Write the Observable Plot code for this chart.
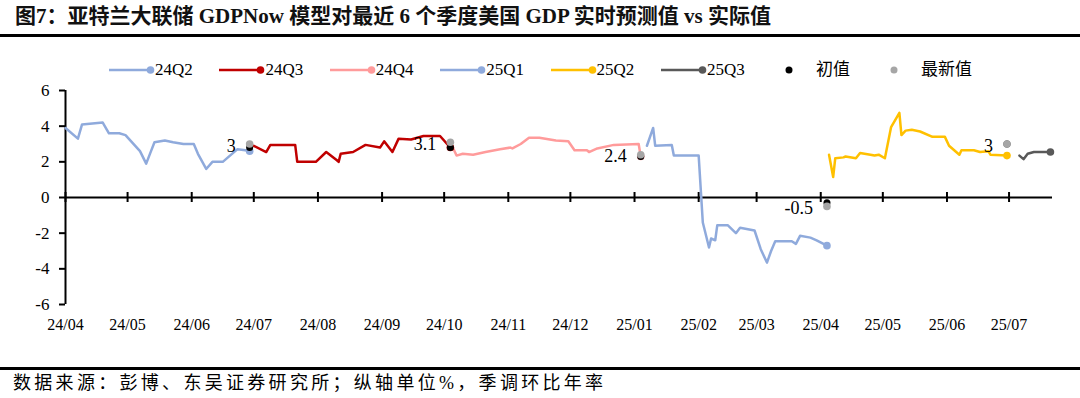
<!DOCTYPE html>
<html><head><meta charset="utf-8">
<script src="https://cdn.jsdelivr.net/npm/d3@7"></script>
<script src="https://cdn.jsdelivr.net/npm/@observablehq/plot@0.6"></script>
<style>
body{margin:0;width:1080px;height:398px;position:relative;background:#fff;overflow:hidden;font-family:"Liberation Serif","Noto Sans CJK SC",serif;color:#000;}
#title{position:absolute;left:15px;top:6px;font-size:21px;line-height:21px;font-weight:bold;white-space:nowrap;color:#111;}
#rule1{position:absolute;left:0;top:34px;width:1080px;height:3px;background:#000;}
#legend{position:absolute;left:0;top:60px;width:1080px;height:20px;}
.item{position:absolute;top:0;height:20px;display:flex;align-items:center;font-size:17px;line-height:20px;white-space:nowrap;}
.item svg{display:block;}
#chart{position:absolute;left:0;top:40px;}
#rule2{position:absolute;left:0;top:367px;width:1080px;height:3px;background:#000;}
#caption{position:absolute;left:13px;top:374px;font-size:18px;line-height:18px;letter-spacing:3.3px;white-space:nowrap;}
</style></head>
<body>
<div id="title">图7：亚特兰大联储 GDPNow 模型对最近 6 个季度美国 GDP 实时预测值 vs 实际值</div>
<div id="rule1"></div>
<div id="legend"></div>
<div id="chart"></div>
<div id="rule2"></div>
<div id="caption">数据来源：彭博、东吴证券研究所；纵轴单位%，季调环比年率</div>
<script>
// ---- data ----
const quarters = ["24Q2","24Q3","24Q4","25Q1","25Q2","25Q3"];

const dates24Q2 = ["2024-04-01","2024-04-07","2024-04-09","2024-04-19","2024-04-22","2024-04-27","2024-04-30","2024-05-07","2024-05-10","2024-05-12","2024-05-14","2024-05-19","2024-05-23","2024-05-28","2024-06-02","2024-06-04","2024-06-08","2024-06-11","2024-06-16","2024-06-23","2024-06-27","2024-06-29"];
const vals24Q2 = [3.9,3.3,4.1,4.2,3.6,3.6,3.5,2.6,1.9,2.5,3.1,3.2,3.1,3.0,3.0,2.45,1.6,2.0,2.0,2.7,2.65,2.6];

const dates24Q3 = ["2024-07-01","2024-07-07","2024-07-09","2024-07-21","2024-07-22","2024-07-31","2024-08-05","2024-08-10","2024-08-11","2024-08-12","2024-08-18","2024-08-24","2024-08-31","2024-09-02","2024-09-06","2024-09-09","2024-09-15","2024-09-21","2024-09-29","2024-10-04"];
const vals24Q3 = [2.9,2.55,2.95,2.95,2.0,2.0,2.55,2.1,2.0,2.45,2.55,2.95,2.8,3.15,2.55,3.3,3.25,3.45,3.45,2.8];

const dates24Q4 = ["2024-10-05","2024-10-07","2024-10-10","2024-10-15","2024-10-21","2024-10-28","2024-11-02","2024-11-03","2024-11-07","2024-11-11","2024-11-16","2024-11-24","2024-11-30","2024-12-03","2024-12-09","2024-12-10","2024-12-14","2024-12-22","2025-01-03","2025-01-04"];
const vals24Q4 = [2.85,2.35,2.45,2.4,2.55,2.7,2.8,2.75,3.0,3.35,3.35,3.2,3.15,2.65,2.65,2.55,2.75,2.95,3.0,2.3];

const dates25Q1 = ["2025-01-07","2025-01-10","2025-01-11","2025-01-19","2025-01-20","2025-02-01","2025-02-03","2025-02-06","2025-02-07","2025-02-09","2025-02-10","2025-02-15","2025-02-19","2025-02-21","2025-02-28","2025-03-03","2025-03-06","2025-03-08","2025-03-10","2025-03-18","2025-03-20","2025-03-22","2025-03-27","2025-03-30","2025-04-04"];
const vals25Q1 = [2.9,3.9,2.9,2.95,2.35,2.35,-1.4,-2.8,-2.3,-2.4,-1.55,-1.55,-2.0,-1.7,-1.85,-2.9,-3.65,-3.0,-2.45,-2.45,-2.6,-2.15,-2.25,-2.4,-2.7];

const dates25Q2 = ["2025-04-05","2025-04-07","2025-04-08","2025-04-12","2025-04-13","2025-04-18","2025-04-20","2025-04-25","2025-04-27","2025-04-29","2025-05-02","2025-05-05","2025-05-09","2025-05-10","2025-05-12","2025-05-15","2025-05-19","2025-05-25","2025-05-31","2025-06-02","2025-06-07","2025-06-08","2025-06-14","2025-06-17","2025-06-21","2025-06-22","2025-06-30"];
const vals25Q2 = [2.4,1.15,2.2,2.25,2.3,2.2,2.5,2.4,2.35,2.4,2.2,3.95,4.75,3.5,3.75,3.8,3.7,3.4,3.4,2.9,2.4,2.65,2.65,2.55,2.6,2.4,2.35];

const dates25Q3 = ["2025-07-06","2025-07-08","2025-07-10","2025-07-13","2025-07-21"];
const vals25Q3 = [2.35,2.15,2.45,2.55,2.55];

const actualQuarters = ["24Q2","24Q3","24Q4","25Q1","25Q2"];
const initialValues = [2.8,2.8,2.3,-0.3,3.0];
const latestValues = [3.0,3.1,2.4,-0.5,3.0];

const xStart = "2024-04-01";
const xEnd = "2025-07-22";
const tickMonths = ["2024-04-01","2024-05-01","2024-06-01","2024-07-01","2024-08-01","2024-09-01","2024-10-01","2024-11-01","2024-12-01","2025-01-01","2025-02-01","2025-03-01","2025-04-01","2025-05-01","2025-06-01","2025-07-01"];
const yTicks = [-6,-4,-2,0,2,4,6];
const legendInitial = "初值";
const legendLatest = "最新值";

// ---- styles ----
const colors = ["#8faadc","#c00000","#ff9b9b","#8faadc","#ffc000","#595959"];
const initialColor = "#000000";
const latestColor = "#a6a6a6";

// ---- build ----
const parse = d3.utcParse("%Y-%m-%d");
const seriesList = [
  {q:"24Q2", d:dates24Q2, v:vals24Q2},
  {q:"24Q3", d:dates24Q3, v:vals24Q3},
  {q:"24Q4", d:dates24Q4, v:vals24Q4},
  {q:"25Q1", d:dates25Q1, v:vals25Q1},
  {q:"25Q2", d:dates25Q2, v:vals25Q2},
  {q:"25Q3", d:dates25Q3, v:vals25Q3}
];
const rows = seriesList.flatMap(s => s.d.map((d, i) => ({q: s.q, date: parse(d), value: s.v[i]})));
const ends = seriesList.map(s => ({q: s.q, date: parse(s.d[s.d.length - 1]), value: s.v[s.v.length - 1]}));
const actuals = actualQuarters.map((q, i) => ({
  q, date: ends.find(e => e.q === q).date,
  initial: initialValues[i], latest: latestValues[i], label: String(latestValues[i])
}));
const tickDates = tickMonths.map(parse);

const chart = Plot.plot({
  width: 1080, height: 305,
  marginTop: 50, marginBottom: 41, marginLeft: 65, marginRight: 28,
  x: {type: "utc", domain: [parse(xStart), parse(xEnd)]},
  y: {domain: [-6, 6]},
  color: {domain: quarters, range: colors},
  style: {fontFamily: "'Liberation Serif', 'Noto Sans CJK SC', serif", fontSize: "16px", color: "#000", background: "transparent"},
  marks: [
    Plot.ruleY([0], {stroke: "#000", strokeWidth: 2}),
    Plot.ruleX(tickDates, {x: d => d, y1: 0, y2: 0, insetTop: -5, insetBottom: -5, stroke: "#000", strokeWidth: 2}),
    Plot.ruleX([parse(xStart)], {stroke: "#000", strokeWidth: 2}),
    Plot.axisY({ticks: yTicks, tickSize: 6, tickPadding: 10, fontSize: 17, strokeWidth: 2, tickFormat: d => String(d), label: null}),
    Plot.axisX({ticks: tickDates, tickFormat: d3.utcFormat("%y/%m"), tickSize: 0, tickPadding: 14, fontSize: 16, label: null}),
    Plot.line(rows, {x: "date", y: "value", z: "q", stroke: "q", strokeWidth: 2.5, strokeLinejoin: "round"}),
    Plot.dot(ends, {x: "date", y: "value", fill: "q", r: 3.8}),
    Plot.dot(actuals, {x: "date", y: "initial", fill: initialColor, r: 3.5}),
    Plot.dot(actuals, {x: "date", y: "latest", fill: latestColor, r: 3.8}),
    Plot.text(actuals, {x: "date", y: "latest", text: "label", textAnchor: "end", dx: -14, dy: 2, fontSize: 18})
  ]
});
document.getElementById("chart").appendChild(chart);

// ---- legend ----
const legend = document.getElementById("legend");
const svgNS = "http://www.w3.org/2000/svg";
quarters.forEach((q, i) => {
  const item = document.createElement("div");
  item.className = "item";
  item.style.left = (109 + i * 110.4) + "px";
  const svg = document.createElementNS(svgNS, "svg");
  svg.setAttribute("width", 46); svg.setAttribute("height", 20);
  const ln = document.createElementNS(svgNS, "line");
  ln.setAttribute("x1", 0); ln.setAttribute("x2", 41); ln.setAttribute("y1", 10); ln.setAttribute("y2", 10);
  ln.setAttribute("stroke", colors[i]); ln.setAttribute("stroke-width", 2.5);
  const c = document.createElementNS(svgNS, "circle");
  c.setAttribute("cx", 41.5); c.setAttribute("cy", 10); c.setAttribute("r", 3.8); c.setAttribute("fill", colors[i]);
  svg.appendChild(ln); svg.appendChild(c);
  item.appendChild(svg);
  const t = document.createElement("span"); t.textContent = q;
  item.appendChild(t);
  legend.appendChild(item);
});
[[legendInitial, initialColor, 785], [legendLatest, latestColor, 890]].forEach(([label, col, left]) => {
  const item = document.createElement("div");
  item.className = "item";
  item.style.left = left + "px";
  const svg = document.createElementNS(svgNS, "svg");
  svg.setAttribute("width", 31); svg.setAttribute("height", 20);
  const c = document.createElementNS(svgNS, "circle");
  c.setAttribute("cx", 4); c.setAttribute("cy", 10); c.setAttribute("r", 3.5); c.setAttribute("fill", col);
  svg.appendChild(c);
  item.appendChild(svg);
  const t = document.createElement("span"); t.textContent = label; t.style.fontSize = "17px";
  item.appendChild(t);
  legend.appendChild(item);
});
</script>
</body></html>
